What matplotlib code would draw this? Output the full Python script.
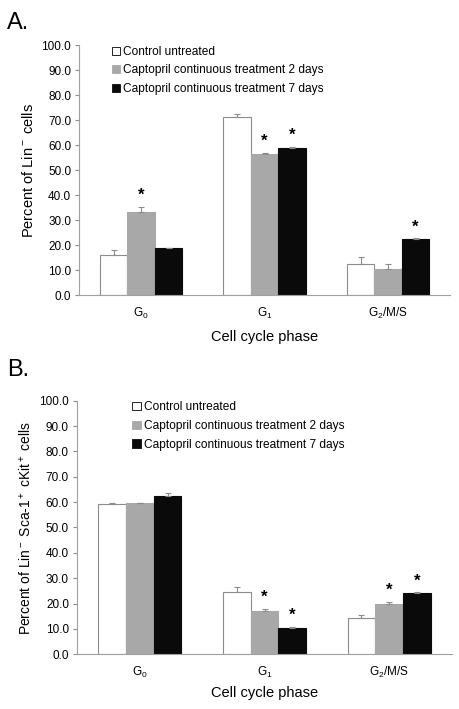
import numpy as np
import matplotlib
matplotlib.use("Agg")
import matplotlib.pyplot as plt
from matplotlib.patches import Patch

plt.rcParams['font.family'] = ['Liberation Sans', 'DejaVu Sans']
plt.rcParams['mathtext.fontset'] = 'custom'
plt.rcParams['mathtext.rm'] = 'Liberation Sans'
plt.rcParams['mathtext.it'] = 'Liberation Sans'

phases = ["G$_0$", "G$_1$", "G$_2$/M/S"]
series = ["Control untreated",
          "Captopril continuous treatment 2 days",
          "Captopril continuous treatment 7 days"]
colors = ["white", "#a8a8a8", "#0a0a0a"]

# panel A: Lin- cells
a_vals = [[16.0, 71.3, 12.4],
          [33.3, 56.5, 10.3],
          [18.7, 58.8, 22.3]]
a_err = [[2.0, 1.2, 2.7],
         [2.0, 0.5, 2.0],
         [0.0, 0.5, 0.4]]
a_sig = [[0, 0, 0],
         [1, 1, 0],
         [0, 1, 1]]

# panel B: Lin- Sca-1+ cKit+ cells
b_vals = [[59.4, 24.4, 14.2],
          [59.5, 17.1, 19.8],
          [62.4, 10.5, 24.2]]
b_err = [[0.4, 2.0, 1.3],
         [0.3, 0.8, 1.0],
         [1.1, 0.4, 0.3]]
b_sig = [[0, 0, 0],
         [0, 1, 1],
         [0, 1, 1]]

yticks = np.arange(0, 101, 10)
edge = "#8c8c8c"


def draw(ax, vals, errs, sig, ylabel, legend_x):
    x = np.arange(len(phases))
    w = 0.223
    for i in range(3):
        pos = x + (i - 1) * w
        ax.bar(pos, vals[i], w, color=colors[i], edgecolor=edge if i == 0 else colors[i],
               linewidth=0.8, zorder=2)
        lo = np.zeros(len(phases))
        ax.errorbar(pos, vals[i], yerr=[lo, errs[i]], fmt="none", ecolor=edge,
                    elinewidth=0.8, capsize=2, capthick=0.8, zorder=3)
        for j in range(len(phases)):
            if sig[i][j]:
                ax.text(pos[j], vals[i][j] + errs[i][j] + 1.5, "*", ha="center",
                        va="bottom", fontsize=12, fontweight="bold")
    ax.set_xlim(-0.5, 2.5)
    ax.set_ylim(0, 100)
    ax.set_yticks(yticks)
    ax.set_yticklabels(["%.1f" % t for t in yticks], fontsize=8.5)
    ax.set_xticks(x)
    ax.set_xticklabels(phases, fontsize=8.5)
    ax.tick_params(axis="x", length=0, pad=8)
    ax.tick_params(axis="y", length=3, color=edge, width=0.8, pad=3)
    for s in ["top", "right"]:
        ax.spines[s].set_visible(False)
    for s in ["left", "bottom"]:
        ax.spines[s].set_color("#a0a0a0")
        ax.spines[s].set_linewidth(0.8)
    ax.set_xlabel("Cell cycle phase", fontsize=10.5)
    ax.set_ylabel(ylabel, fontsize=10.5)
    handles = [Patch(facecolor=colors[i], edgecolor="black" if i == 0 else colors[i],
                     linewidth=0.6) for i in range(3)]
    ax.legend(handles, series, loc="upper left", bbox_to_anchor=(legend_x, 1.03),
              frameon=False, fontsize=8.6, handlelength=0.7, handleheight=0.7,
              handletextpad=0.25, labelspacing=0.55, borderpad=0.2)


fig = plt.figure(figsize=(4.6, 7.09), dpi=100)
ax1 = fig.add_axes([0.1728, 0.5839, 0.805, 0.3526])
ax2 = fig.add_axes([0.168, 0.0772, 0.814, 0.3577])

draw(ax1, a_vals, a_err, a_sig, "Percent of Lin$^-$ cells", 0.065)
draw(ax2, b_vals, b_err, b_sig, "Percent of Lin$^-$ Sca-1$^+$ cKit$^+$ cells", 0.125)
ax2.yaxis.label.set_size(10)
ax1.xaxis.labelpad = 6
ax2.xaxis.labelpad = 4

fig.text(0.015, 0.968, "A.", fontsize=17, va="center", ha="left")
fig.text(0.015, 0.478, "B.", fontsize=17, va="center", ha="left")

fig.savefig("out.png", dpi=100)
